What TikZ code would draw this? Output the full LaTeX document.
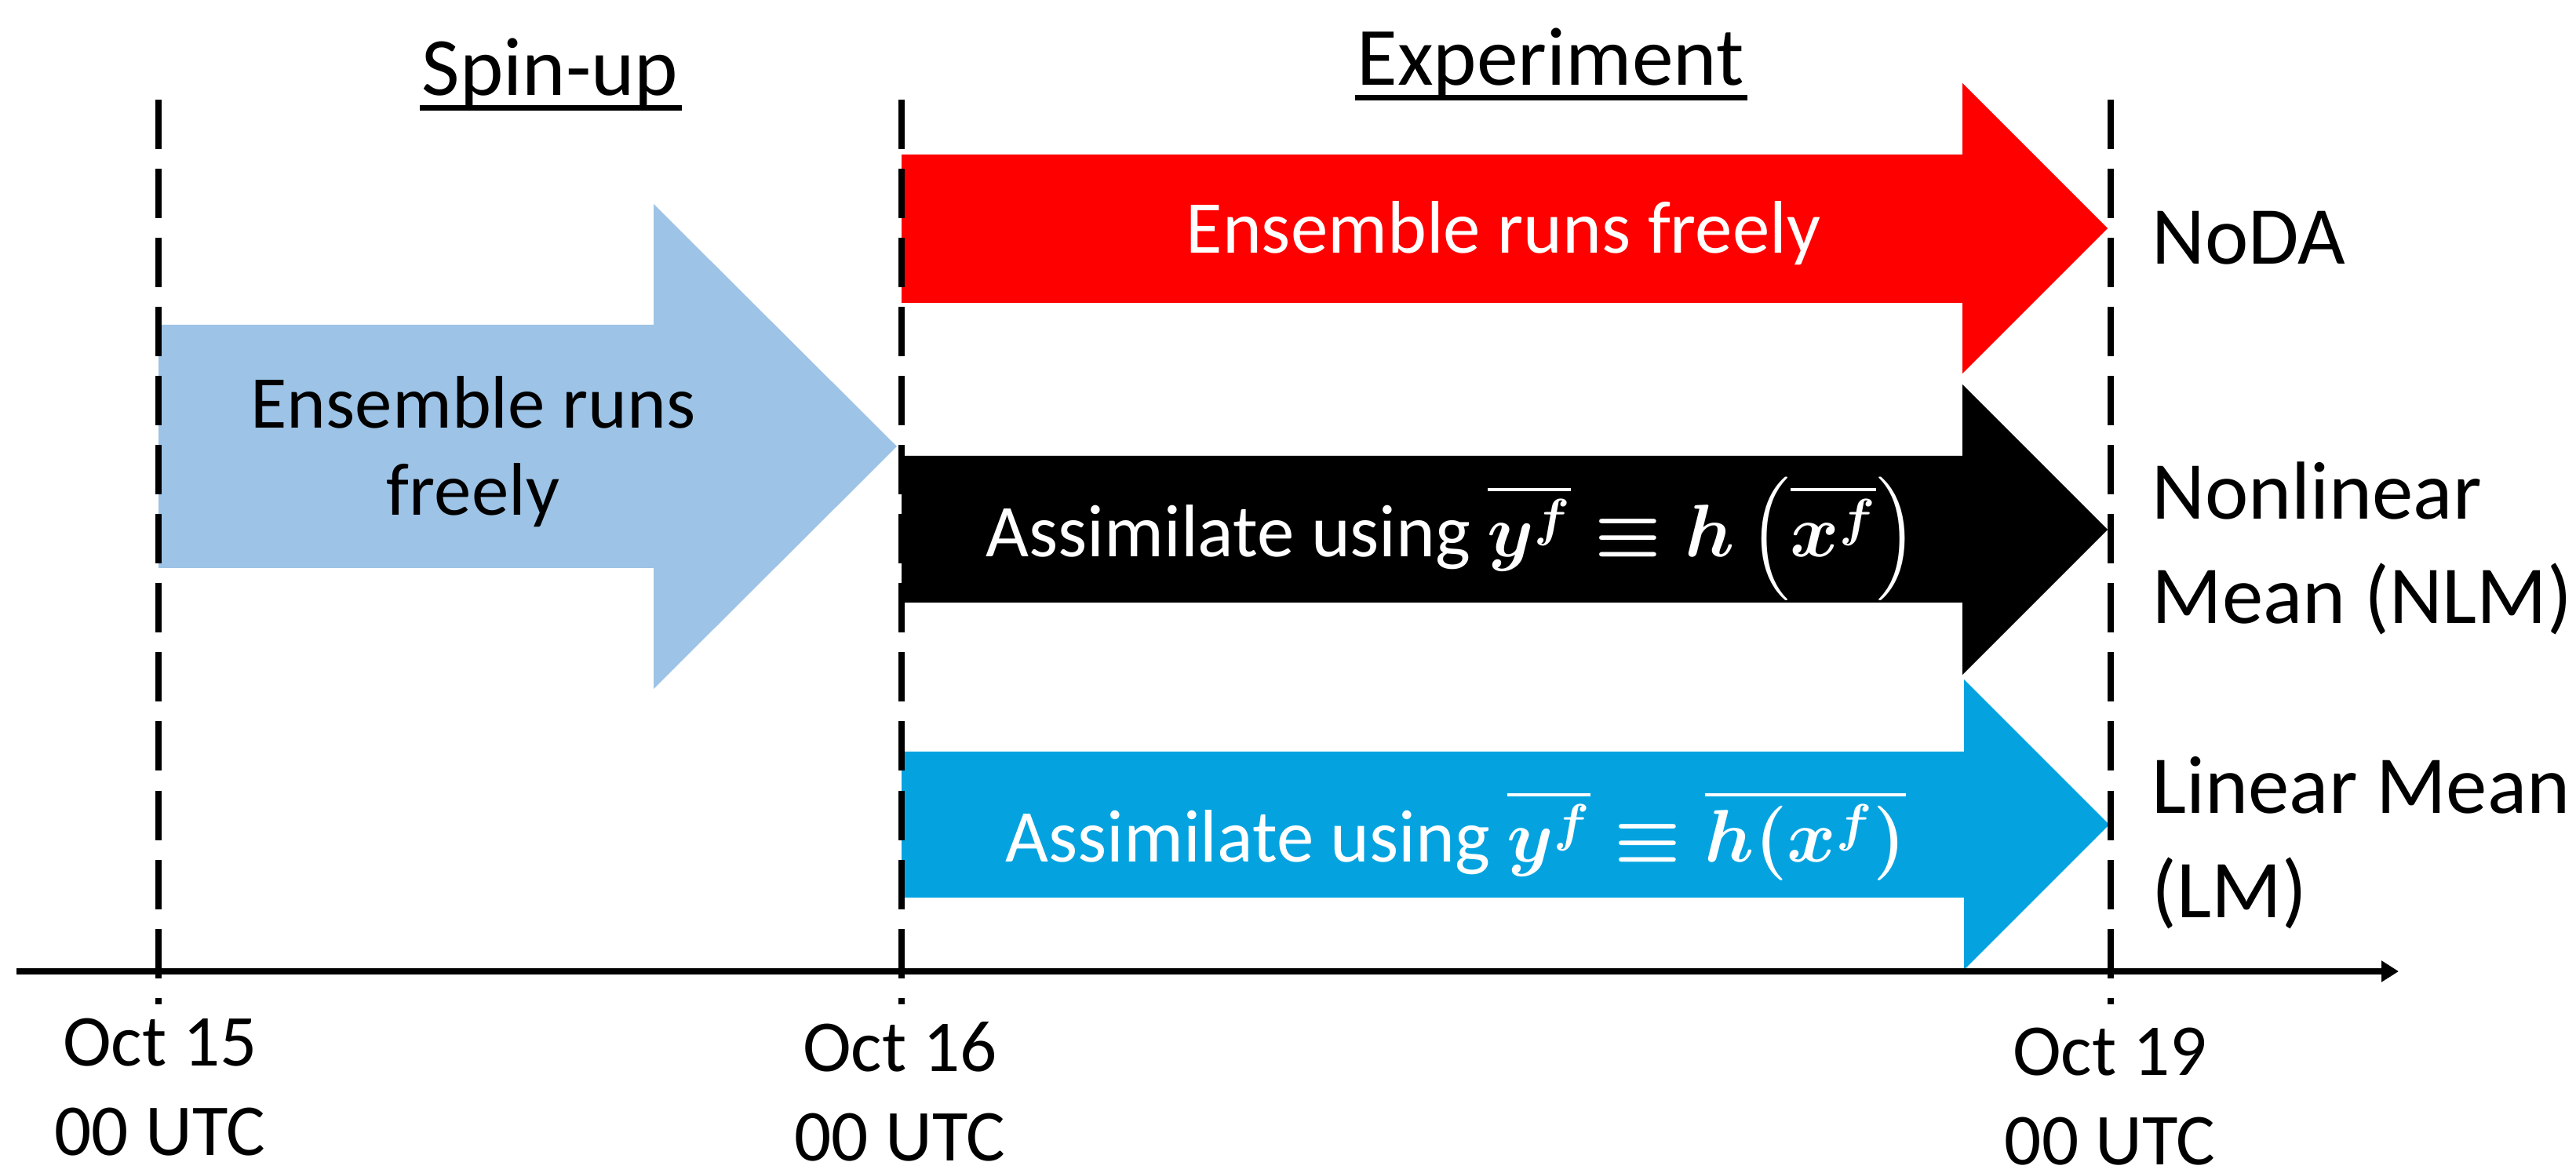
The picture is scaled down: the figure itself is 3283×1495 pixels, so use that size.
\documentclass[tikz,border=0pt]{standalone}
\usepackage{fix-cm}
\usepackage{fontspec}
\setmainfont{Carlito}
\usepackage{amsmath}
\usetikzlibrary{arrows.meta}

\definecolor{spinblue}{RGB}{157,195,230}
\definecolor{lmcyan}{RGB}{4,163,224}

\begin{document}
\begin{tikzpicture}[x=0.01cm,y=-0.01cm]
	\tikzstyle{every node}=[inner sep=0pt,anchor=base]
	\tikzstyle{heading}=[font=\fontsize{30}{36}\selectfont]
	\tikzstyle{runname}=[font=\fontsize{29.8}{38.1}\selectfont,anchor=base west,align=left]
	\tikzstyle{arrowtext}=[font=\fontsize{27}{31.6}\selectfont,align=center]
	\tikzstyle{datum}=[font=\fontsize{26.5}{32.7}\selectfont,align=center]
	\tikzstyle{timeline}=[line width=0.08cm,dash pattern=on 0.63cm off 0.25cm]

	\useasboundingbox (0,0) rectangle (3283,1495);

	% block arrows
	\fill[spinblue] (202,414) -- (833,414) -- (833,260) -- (1143,569) -- (833,878) -- (833,724) -- (202,724) -- cycle;
	\fill[red] (1149,197) -- (2501,197) -- (2501,106) -- (2686,291) -- (2501,476) -- (2501,386) -- (1149,386) -- cycle;
	\fill[black] (1149,581) -- (2501,581) -- (2501,490) -- (2686,675) -- (2501,860) -- (2501,768) -- (1149,768) -- cycle;
	\fill[lmcyan] (1149,958) -- (2503,958) -- (2503,866) -- (2688,1051) -- (2503,1236) -- (2503,1144) -- (1149,1144) -- cycle;

	\foreach \x in {202,1149,2690}
		\draw[timeline] (\x,127) -- (\x,1280);

	\coordinate (axisstart) at (21,1238);
	\coordinate (axisend) at (3057,1238);
	\draw[line width=0.08cm,-{Triangle[length=0.22cm,width=0.26cm]}] (axisstart) -- (axisend);

	\node[heading] (spinup) at (701,122) {Spin-up};
	\node[heading] (experiment) at (1976,109) {Experiment};
	\draw[line width=0.07cm] ([shift={(-0.02cm,-0.155cm)}]spinup.base west) -- ([shift={(0.04cm,-0.155cm)}]spinup.base east);
	\draw[line width=0.07cm] ([shift={(-0.02cm,-0.155cm)}]experiment.base west) -- ([shift={(0.04cm,-0.155cm)}]experiment.base east);

	% multi-line nodes sit on their last line
	\node[arrowtext] (spinrun) at (603,657) {Ensemble runs\\freely};
	\node[arrowtext,white] (freerun) at (1916,323) {Ensemble runs freely};
	\node[arrowtext,white] (nlmrun) at (1850,710) {Assimilate using $\boldsymbol{\overline{y^f}\equiv h\left(\overline{x^f}\right)}$};
	\node[arrowtext,white] (lmrun) at (1855,1099) {Assimilate using $\boldsymbol{\overline{y^f}\equiv\overline{h(x^f)}}$};

	\node[runname] (noda) at (2742,337) {NoDA};
	\node[runname] (nlm) at (2742,795) {Nonlinear\\Mean (NLM)};
	\node[runname] (lm) at (2742,1170) {Linear Mean\\(LM)};

	\node[datum] (oct15) at (204,1473) {Oct 15\\00 UTC};
	\node[datum] (oct16) at (1147,1480) {Oct 16\\00 UTC};
	\node[datum] (oct19) at (2689,1485) {Oct 19\\00 UTC};
\end{tikzpicture}
\end{document}
